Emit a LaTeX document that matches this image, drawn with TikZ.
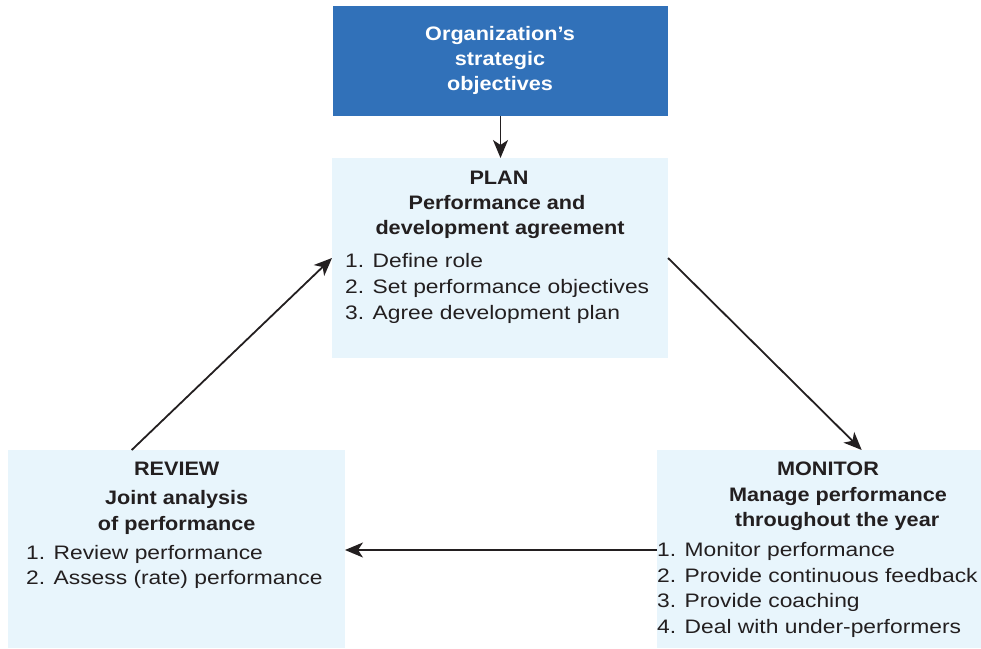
\documentclass[tikz,border=0pt]{standalone}
\usepackage{fontspec}
\setmainfont{Liberation Sans}
\newfontfamily\regf{Liberation Sans}[FakeStretch=1.17]
\newfontfamily\boldf{Liberation Sans}[FakeStretch=1.11]
\usetikzlibrary{arrows.meta}
\definecolor{topblue}{HTML}{3171B9}
\definecolor{lightfill}{HTML}{E8F5FC}
\definecolor{ink}{HTML}{231F20}
\tikzset{
  box/.style={rectangle, inner sep=0pt, outer sep=0pt, anchor=north west, fill=lightfill},
  topbox/.style={rectangle, inner sep=0pt, outer sep=0pt, anchor=north west, fill=topblue},
  head/.style={inner sep=0pt, anchor=base, text=ink, font=\boldf\bfseries\fontsize{19.5}{25}\selectfont},
  whitehead/.style={head, text=white},
  item/.style={inner sep=0pt, anchor=base west, text=ink, font=\regf\fontsize{19.5}{25}\selectfont},
  arr/.style={draw=ink, line width=1.8pt, -{Stealth[length=18pt,width=15pt,inset=5pt]}}
}
\begin{document}
\begin{tikzpicture}[x=1pt,y=-1pt]
\useasboundingbox (0,0) rectangle (981,648);
% boxes
\node[topbox, minimum width=335pt, minimum height=110pt] (obj) at (333,6) {};
\node[box, minimum width=336pt, minimum height=199.5pt] (plan) at (332,158) {};
\node[box, minimum width=337pt, minimum height=198pt] (review) at (8,450) {};
\node[box, minimum width=324pt, minimum height=198pt] (monitor) at (657,450) {};
% top box text
\node[whitehead] (o1) at (500,40.7) {Organization’s};
\node[whitehead] (o2) at (500,65.7) {strategic};
\node[whitehead] (o3) at (500,90.7) {objectives};
% plan text
\node[head] (p1) at (499,184) {PLAN};
\node[head] (p2) at (497,209) {Performance and};
\node[head] (p3) at (500,234) {development agreement};
\node[item] (p4) at (345,267.7) {1. Define role};
\node[item] (p5) at (345,293.3) {2. Set performance objectives};
\node[item] (p6) at (345,319) {3. Agree development plan};
% review text
\node[head] (r1) at (176.7,475) {REVIEW};
\node[head] (r2) at (176.7,504) {Joint analysis};
\node[head] (r3) at (176.7,530) {of performance};
\node[item] (r4) at (26,559) {1. Review performance};
\node[item] (r5) at (26,584.3) {2. Assess (rate) performance};
% monitor text
\node[head] (m1) at (828,475) {MONITOR};
\node[head] (m2) at (838,501) {Manage performance};
\node[head] (m3) at (837,526) {throughout the year};
\node[item] (m4) at (657,556.7) {1. Monitor performance};
\node[item] (m5) at (657,582.3) {2. Provide continuous feedback};
\node[item] (m6) at (657,607.7) {3. Provide coaching};
\node[item] (m7) at (657,633.3) {4. Deal with under-performers};
% connectors
\draw[arr] ([xshift=-167.5pt]obj.south east) -- ([xshift=-167.5pt]plan.north east);
\draw[arr] ([yshift=-100pt]plan.north east) -- ([xshift=204.7pt]monitor.north west);
\draw[arr] ([yshift=-100pt]monitor.north west) -- ([yshift=-100pt]review.north east);
\draw[arr] ([xshift=123.7pt]review.north west) -- ([yshift=-100pt]plan.north west);
\end{tikzpicture}
\end{document}
